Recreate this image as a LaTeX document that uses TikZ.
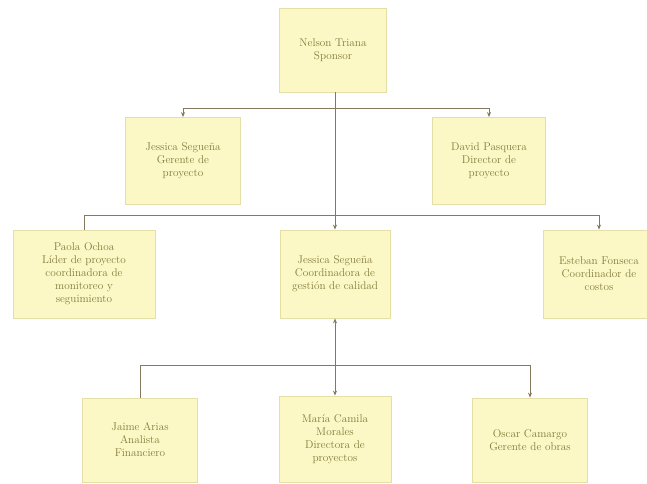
\documentclass[tikz,border=0pt]{standalone}
\usetikzlibrary{arrows.meta}

\definecolor{boxfill}{HTML}{FBF8C6}
\definecolor{boxline}{HTML}{E4DFA6}
\definecolor{boxtext}{HTML}{857B3C}
\definecolor{linkcol}{HTML}{85785C}

\begin{document}
\begin{tikzpicture}[x=1pt, y=-1pt,
    puesto/.style = {draw = boxline, fill = boxfill, text = boxtext,
        align = center, inner sep = 2pt, line width = 0.8pt,
        font = \fontsize{11.2}{13}\selectfont},
    enlace/.style = {draw = linkcol, line width = 0.9pt},
    flecha/.style = {enlace, -{Stealth[length=5pt, width=4pt]}}]

    \useasboundingbox[fill = white] (0,0) rectangle (647,483);

    % nivel 1
    \node[puesto, minimum width = 107pt, minimum height = 84pt]
        (sponsor) at (333,50) {Nelson Triana\\Sponsor};

    % nivel 2
    \node[puesto, minimum width = 115pt, minimum height = 87pt]
        (gerente) at (183,161) {Jessica Segueña\\Gerente de\\proyecto};
    \node[puesto, minimum width = 113pt, minimum height = 87pt]
        (director) at (489,161) {David Pasquera\\Director de\\proyecto};

    % nivel 3
    \node[puesto, minimum width = 142pt, minimum height = 88pt]
        (lider) at (84,274) {Paola Ochoa\\Líder de proyecto\\coordinadora de\\monitoreo y\\seguimiento};
    \node[puesto, minimum width = 110pt, minimum height = 88pt]
        (calidad) at (335,274) {Jessica Segueña\\Coordinadora de\\gestión de calidad};
    \node[puesto, minimum width = 112pt, minimum height = 88pt]
        (costos) at (599,274) {Esteban Fonseca\\Coordinador de\\costos};

    % nivel 4
    \node[puesto, minimum width = 115pt, minimum height = 84pt]
        (analista) at (140,440) {Jaime Arias\\Analista\\Financiero};
    \node[puesto, minimum width = 112pt, minimum height = 86pt]
        (obras) at (335,439) {María Camila\\Morales\\Directora de\\proyectos};
    \node[puesto, minimum width = 115pt, minimum height = 84pt]
        (camargo) at (530,440) {Oscar Camargo\\Gerente de obras};

    \coordinate (r1) at (335,108);
    \coordinate (r2) at (335,215);
    \coordinate (r3) at (335,365);

      \draw[enlace] (sponsor.south -| r1) -- (r2);
      \draw[flecha] (r1) -| (gerente.north);
      \draw[flecha] (r1) -| (director.north);

      \draw[enlace] (r2) -| (lider.north);
      \draw[flecha] (r2) -- (calidad.north);
      \draw[flecha] (r2) -| (costos.north);

      \draw[flecha] (r3) -- (calidad.south);
      \draw[enlace] (r3) -| (analista.north);
      \draw[flecha] (r3) -- (obras.north);
      \draw[flecha] (r3) -| (camargo.north);
  \end{tikzpicture}
\end{document}
